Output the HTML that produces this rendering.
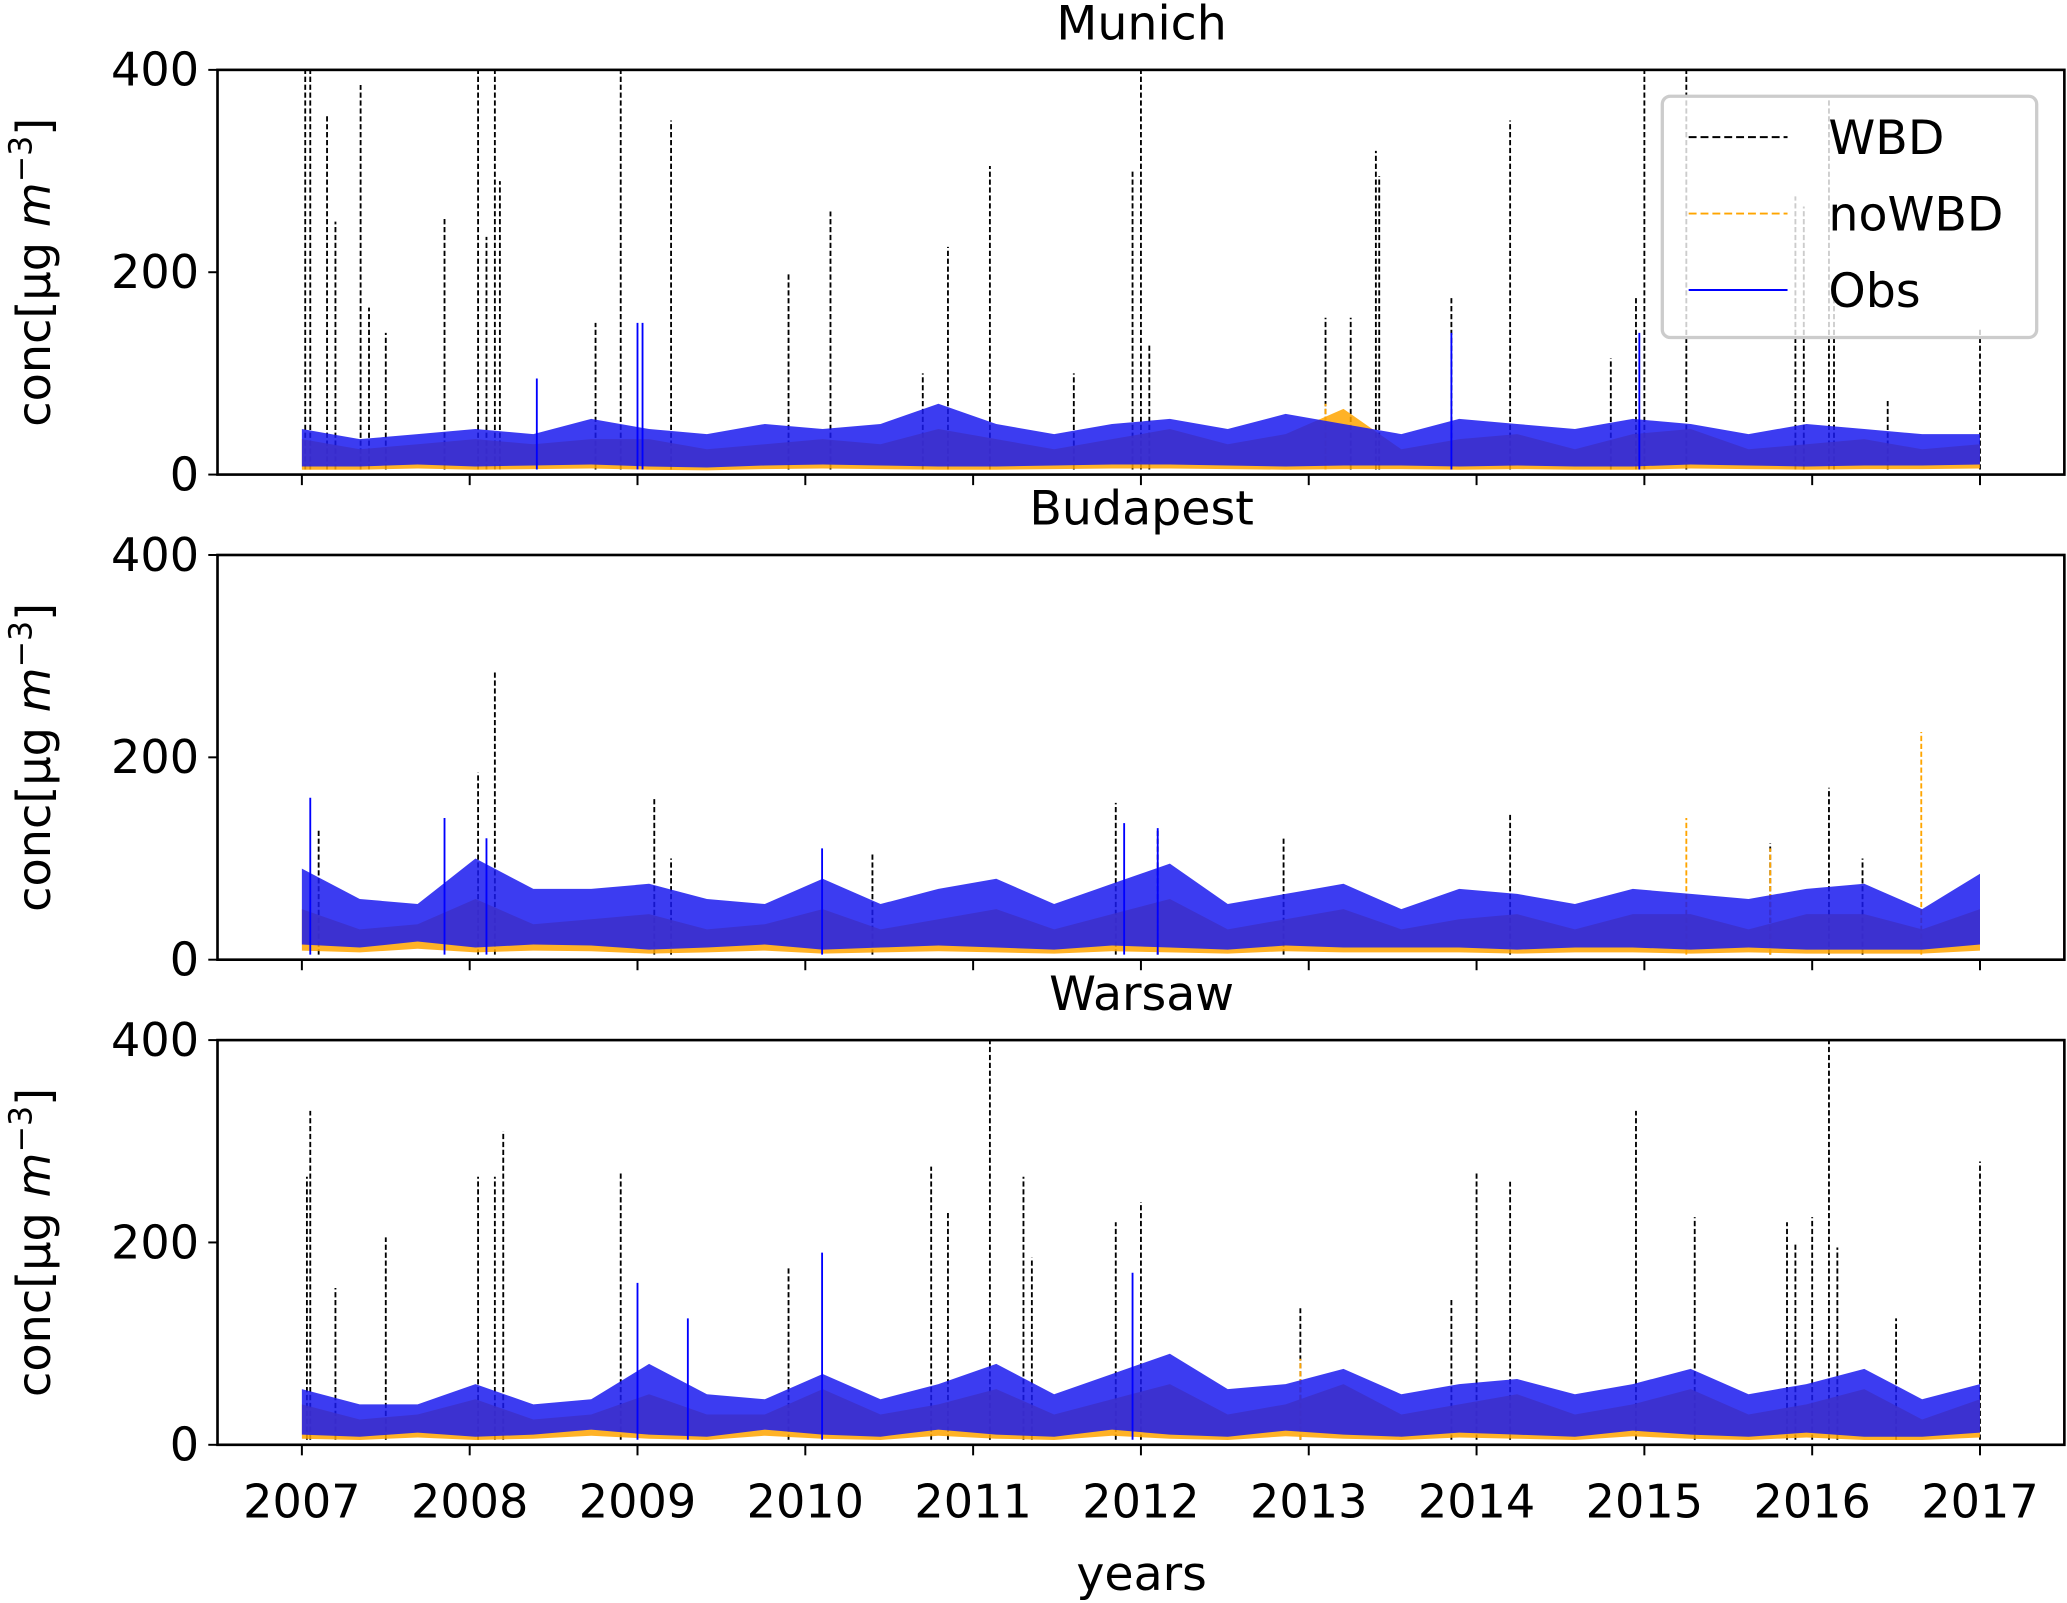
<!DOCTYPE html>
<html><head><meta charset="utf-8"><style>
body{margin:0;background:#fff}
svg{display:block;font-family:"DejaVu Sans","Liberation Sans",sans-serif}
</style></head><body>
<svg id="chart" width="2067" height="1603" viewBox="0 0 1568 1216" xmlns="http://www.w3.org/2000/svg"></svg>
<script>
const panelNames = ["Munich","Budapest","Warsaw"];
const yTicks = [0,200,400];
const xTicks = [2007,2008,2009,2010,2011,2012,2013,2014,2015,2016,2017];
// band data: 30 points evenly spanning 2007-2017
const obsLow = [
 [8,8,10,8,9,10,8,7,9,10,9,8,8,9,10,10,9,8,9,9,8,9,8,8,10,9,8,9,9,10],
 [15,12,18,12,15,14,10,12,15,10,12,14,12,10,14,12,10,14,12,12,12,10,12,12,10,12,10,10,10,15],
 [10,8,12,8,10,15,10,8,15,10,8,15,10,8,15,10,8,14,10,8,12,10,8,14,10,8,12,8,8,12]];
const obsHigh = [
 [45,35,40,45,40,55,45,40,50,45,50,70,50,40,50,55,45,60,50,40,55,50,45,55,50,40,50,45,40,40],
 [90,60,55,100,70,70,75,60,55,80,55,70,80,55,75,95,55,65,75,50,70,65,55,70,65,60,70,75,50,85],
 [55,40,40,60,40,45,80,50,45,70,45,60,80,50,70,90,55,60,75,50,60,65,50,60,75,50,60,75,45,60]];
const nowbdHigh = [
 [35,25,30,35,30,35,35,25,30,35,30,45,35,25,35,45,30,40,65,25,35,40,25,40,45,25,30,35,25,30],
 [50,30,35,60,35,40,45,30,35,50,30,40,50,30,45,60,30,40,50,30,40,45,30,45,45,30,45,45,30,50],
 [40,25,30,45,25,30,50,30,30,55,30,40,55,30,45,60,30,40,60,30,40,50,30,40,55,30,40,55,25,45]];
const wbdSpikeX = [
 [2007.02,2007.05,2007.15,2007.2,2007.35,2007.4,2007.5,2007.85,2008.05,2008.1,2008.15,2008.18,2008.75,2008.9,2009.2,2009.9,2010.15,2010.7,2010.85,2011.1,2011.6,2011.95,2012.0,2012.05,2013.1,2013.25,2013.4,2013.42,2013.85,2014.2,2014.8,2014.95,2015.0,2015.25,2015.9,2015.95,2016.1,2016.13,2016.45,2017.0],
 [2007.1,2008.05,2008.15,2009.1,2009.2,2010.4,2011.85,2012.1,2012.85,2014.2,2015.75,2016.1,2016.3],
 [2007.03,2007.05,2007.2,2007.5,2008.05,2008.15,2008.2,2008.9,2009.9,2010.75,2010.85,2011.1,2011.3,2011.35,2011.85,2012.0,2012.95,2013.85,2014.0,2014.2,2014.95,2015.3,2015.85,2015.9,2016.0,2016.1,2016.15,2016.5,2017.0]];
const wbdSpikeY = [
 [400,400,355,250,385,165,140,255,400,235,400,290,150,400,350,200,260,100,225,305,100,300,400,130,155,155,320,295,175,350,115,175,400,400,275,265,370,185,75,145],
 [130,185,285,160,100,105,155,130,120,145,115,170,100],
 [265,330,155,205,265,265,310,270,175,275,230,400,265,185,220,240,135,145,270,260,330,225,220,200,225,400,195,125,280]];
const nowbdSpikeX = [[2013.1],[2015.25,2015.75,2016.65],[2012.95]];
const nowbdSpikeY = [[70],[140,110,225],[85]];
const obsSpikeX = [[2008.4,2009.0,2009.03,2013.85,2014.97],[2007.05,2007.85,2008.1,2010.1,2011.9,2012.1],[2009.0,2009.3,2010.1,2011.95]];
const obsSpikeY = [[95,150,150,140,140],[160,140,120,110,135,130],[160,125,190,170]];

const NS="http://www.w3.org/2000/svg";
const svg=document.getElementById('chart');
const L=165,R=1566,tops=[53,421,789],H=307;
const xs=v=>229+(v-2007)*(1502-229)/10;
function mk(tag,attrs,parent){const e=document.createElementNS(NS,tag);for(const k in attrs)e.setAttribute(k,attrs[k]);(parent||svg).appendChild(e);return e;}
panelNames.forEach((name,p)=>{
  const top=tops[p];const ys=v=>top+H-v*H/400;
  const g=mk('g',{});
  
  
  const cp=mk('clipPath',{id:'c'+p},g);mk('rect',{x:L,y:top,width:R-L,height:H},cp);
  const plot=mk('g',{'clip-path':'url(#c'+p+')'},g);
  const band=(lo,hi,col,op,nm)=>{const n=hi.length;const tx=i=>xs(2007+i*10/(n-1));let pts=[];hi.forEach((v,i)=>pts.push(tx(i)+','+ys(v)));
    for(let i=lo.length-1;i>=0;i--)pts.push(tx(i)+','+ys(lo[i]));
    const e=mk('polygon',{points:pts.join(' '),fill:col,'fill-opacity':op},plot);
    };
  const spikes=(X,Y,col,dash,nm)=>X.forEach((x,i)=>{const e=mk('line',{x1:xs(x),x2:xs(x),y1:ys(5),y2:ys(Y[i]),stroke:col,'stroke-width':1.4,'stroke-dasharray':dash},plot);
    });
  spikes(wbdSpikeX[p],wbdSpikeY[p],'#000','4 2','wbd-spike');
  band(obsLow[p].map(v=>v*0.6),nowbdHigh[p],'orange',0.85,'nowbd-band');
  spikes(nowbdSpikeX[p],nowbdSpikeY[p],'orange','4 2','nowbd-spike');
  band(obsLow[p],obsHigh[p],'#1a1aee',0.85,'obs-band');
  spikes(obsSpikeX[p],obsSpikeY[p],'blue','none','obs-spike');
  mk('rect',{x:L,y:top,width:R-L,height:H,fill:'none',stroke:'#000','stroke-width':2},g);
  const t=mk('text',{x:866,y:top-23,'text-anchor':'middle','font-size':36},g);t.textContent=name;
  
  yTicks.forEach(v=>{mk('line',{x1:L-7,x2:L,y1:ys(v),y2:ys(v),stroke:'#000','stroke-width':1.5},g);
    const e=mk('text',{x:L-14,y:ys(v)+12,'text-anchor':'end','font-size':35},g);e.textContent=v;
    });
  xTicks.forEach(v=>mk('line',{x1:xs(v),x2:xs(v),y1:top+H,y2:top+H+8,stroke:'#000','stroke-width':1.5},g));
  const yl=mk('text',{transform:'translate(38,'+(top+H/2)+') rotate(-90)','text-anchor':'middle','font-size':35},g);
  yl.innerHTML='conc[µg <tspan font-style="italic">m</tspan><tspan dy="-14" font-size="24">−3</tspan><tspan dy="14">]</tspan>';
  
});
xTicks.forEach(v=>{const e=mk('text',{x:xs(v),y:1151,'text-anchor':'middle','font-size':35});e.textContent=v;
  });
const xt=mk('text',{x:866,y:1206,'text-anchor':'middle','font-size':36});xt.textContent='years';

const lg=mk('g',{});

mk('rect',{x:1261,y:73,width:284,height:183,rx:6,fill:'#fff','fill-opacity':0.8,stroke:'#ccc','stroke-width':2.5},lg);
[['WBD','#000','6 3',104],['noWBD','orange','6 3',162],['Obs','blue','none',220]].forEach(a=>{
  const e=mk('g',{},lg);
  mk('line',{x1:1281,x2:1356,y1:a[3],y2:a[3],stroke:a[1],'stroke-width':1.5,'stroke-dasharray':a[2]},e);
  const t=mk('text',{x:1387,y:a[3]+13,'font-size':36},e);t.textContent=a[0];});
</script>
</body></html>
